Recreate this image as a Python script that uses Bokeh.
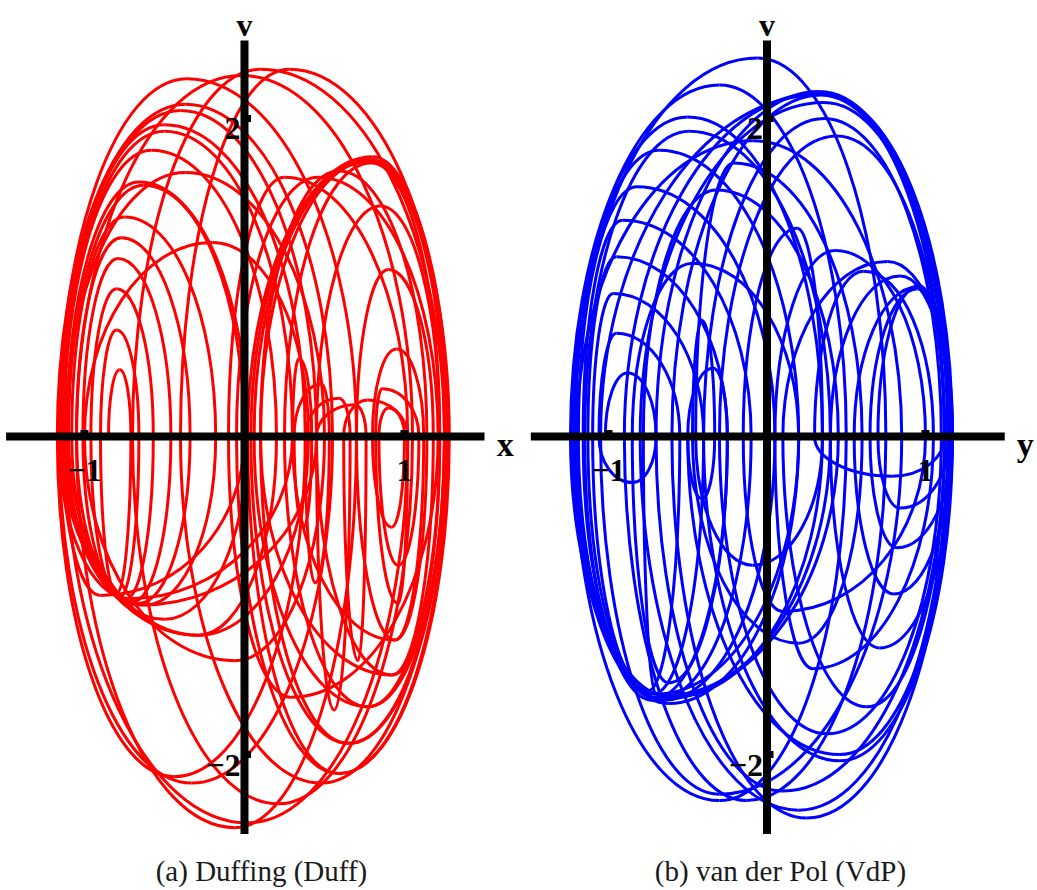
import numpy as np
from bokeh.plotting import figure
from bokeh.layouts import row
from bokeh.models import ColumnDataSource, Label
from bokeh.embed import file_html
from bokeh.resources import INLINE

# ---------------------------------------------------------------------------
# Phase portraits, traced as a chain of turning points per revolution:
# left turn (v = 0) -> top (peak) -> right turn (v = 0) -> bottom (trough) -> next left turn
# ---------------------------------------------------------------------------

# Duffing oscillator: x vs v
duff_left = [-0.85, -0.90, -0.96, -1.01, -1.05, -1.08, -1.11, -1.13, -1.15, -1.17,
             -1.16, -1.05, -0.70, -0.40, 0.02, 0.04, 0.06, 0.10, 0.30, 0.31,
             0.38, 0.45, 0.62, 0.82, 0.84, 0.80, 0.70, 0.45, 0.25, 0.10,
             -0.05, -0.10, -1.12, -1.00, -1.10, -1.14, -1.16, -1.12]
duff_peak_x = [-0.78, -0.80, -0.80, -0.79, -0.77, -0.75, -0.66, -0.58, -0.50, -0.37,
               -0.36, -0.02, 0.10, 0.28, 0.79, 0.80, 0.78, 0.59, 0.34, 0.48,
               0.59, 0.69, 0.77, 0.86, 0.90, 0.95, 0.90, 0.85, 0.79, 0.79,
               0.46, 0.25, -0.37, -0.20, -0.63, -0.50, -0.40]
duff_peak_v = [0.42, 0.67, 0.93, 1.12, 1.25, 1.38, 1.60, 1.80, 1.96, 2.09,
               2.25, 2.27, 2.31, 2.31, 1.74, 1.76, 1.73, 1.67, 0.49, 0.33,
               0.24, 0.20, 0.23, 0.30, 0.18, 0.55, 1.05, 1.45, 1.72, 1.74,
               1.63, 1.63, 1.66, 1.22, 1.58, 1.92, 2.05]
duff_right = [-0.71, -0.66, -0.57, -0.46, -0.34, -0.18, 0.02, 0.20, 0.38, 0.55,
              0.70, 1.05, 1.25, 1.28, 1.26, 1.25, 1.22, 1.14, 0.42, 0.53,
              0.66, 0.76, 1.02, 1.09, 1.00, 1.12, 1.18, 1.22, 1.25, 1.27,
              1.21, 1.02, 0.50, 0.40, 0.00, 0.30, 0.45]
duff_trough_x = [-0.80, -0.78, -0.74, -0.70, -0.66, -0.62, -0.50, -0.29, -0.44, -0.33,
                 -0.06, 0.21, 0.48, 0.59, 0.65, 0.77, 0.92, 0.94, 0.37, 0.44,
                 0.56, 0.71, 0.96, 0.96, 0.92, 0.94, 0.92, 0.77, 0.65, 0.59,
                 0.29, 0.02, -0.06, -0.29, -0.90, -0.72, -0.65]
duff_trough_v = [-0.99, -1.01, -1.02, -1.04, -1.05, -1.06, -1.15, -1.25, -2.14, -2.18,
                 -2.46, -2.31, -2.18, -2.12, -1.93, -1.70, -1.50, -1.28, -0.57, -0.92,
                 -1.72, -1.41, -1.05, -0.81, -0.57, -1.28, -1.50, -1.70, -1.93, -2.12,
                 -1.64, -2.43, -1.41, -1.25, -1.00, -1.02, -1.06]

# van der Pol oscillator: y vs v
vdp_left = [-1.02, -1.06, -1.10, -1.13, -1.16, -1.19, -1.21, -1.23, -1.24, -1.22,
            -0.90, -0.70, -0.60, -0.40, -0.30, 0.10, 0.40, 0.55, 0.65, 0.70,
            0.30, 0.05, -0.15, -0.45, -0.47, -0.50, -0.85, -0.78, -1.15, -1.20,
            -1.05, -0.80, -0.50]
vdp_peak_x = [-0.88, -0.95, -0.97, -0.95, -0.91, -0.82, -0.68, -0.50, -0.30, -0.06,
              0.33, 0.33, 0.35, 0.36, 0.44, 0.76, 0.84, 0.95, 0.95, 0.96,
              0.61, 0.43, 0.19, -0.21, -0.41, -0.34, -0.47, -0.32, -0.49, -0.09,
              0.33, 0.36]
vdp_peak_v = [0.40, 0.65, 0.90, 1.13, 1.36, 1.57, 1.80, 2.01, 2.21, 2.38,
              2.16, 2.17, 2.15, 2.00, 1.89, 1.10, 1.01, 0.94, 0.93, 0.95,
              1.04, 1.17, 1.31, 1.72, 0.73, 0.43, 1.09, 1.55, 1.92, 1.86,
              2.15, 2.10]
vdp_right = [-0.70, -0.55, -0.40, -0.25, -0.10, 0.05, 0.20, 0.35, 0.50, 0.75,
             1.12, 1.15, 1.17, 1.10, 1.12, 1.17, 1.16, 1.17, 1.15, 1.12,
             1.05, 1.00, 0.35, 0.60, -0.33, -0.25, 0.20, 0.45, 0.40, 0.85,
             1.14, 1.16]
vdp_trough_x = [-0.85, -0.75, -0.72, -0.70, -0.68, -0.66, -0.62, -0.60, -0.30, -0.13,
                0.10, 0.25, 0.46, 0.38, 0.63, 0.71, 0.80, 0.82, 0.84, 0.79,
                0.29, 0.10, -0.09, 0.20, -0.41, -0.62, -0.70, -0.72, -0.64, -0.30,
                0.20, 0.46]
vdp_trough_v = [-0.29, -1.60, -1.62, -1.64, -1.65, -1.66, -1.68, -1.64, -2.29, -2.29,
                -2.23, -2.40, -2.04, -1.87, -1.70, -1.33, -0.99, -0.70, -0.45, -0.25,
                -1.46, -1.10, -0.81, -1.30, -0.39, -1.55, -1.62, -1.66, -1.63, -2.25,
                -2.35, -2.00]

# Layout constants (pixels per unit along each axis, origin placement)
HEIGHT = 890
PX_PER_V = 159.0
ORIGIN_TOP = 436.0
V_TOP = ORIGIN_TOP / PX_PER_V
V_BOTTOM = -(HEIGHT - ORIGIN_TOP) / PX_PER_V
KAPPA = 0.5523  # cubic Bezier handle factor for a quarter ellipse

SERIF = "Liberation Serif"


def quarter_arcs(left, peak_x, peak_v, right, trough_x, trough_v):
    L = np.asarray(left, dtype=float)
    P = np.asarray(peak_x, dtype=float)
    Vp = np.asarray(peak_v, dtype=float)
    R = np.asarray(right, dtype=float)
    B = np.asarray(trough_x, dtype=float)
    Vb = np.asarray(trough_v, dtype=float)
    L0, L1 = L[:-1], L[1:]
    z = np.zeros_like(P)
    data = dict(
        x0=np.concatenate([L0, P, R, B]),
        y0=np.concatenate([z, Vp, z, Vb]),
        x1=np.concatenate([P, R, B, L1]),
        y1=np.concatenate([Vp, z, Vb, z]),
        cx0=np.concatenate([L0, P + KAPPA * (R - P), R, B - KAPPA * (B - L1)]),
        cy0=np.concatenate([KAPPA * Vp, Vp, KAPPA * Vb, Vb]),
        cx1=np.concatenate([P - KAPPA * (P - L0), R, B + KAPPA * (R - B), L1]),
        cy1=np.concatenate([Vp, KAPPA * Vp, Vb, KAPPA * Vb]),
    )
    return ColumnDataSource(data)


def panel(width, px_per_x, origin_left, curve_src, color, xlabel, caption, caption_x):
    x_start = -origin_left / px_per_x
    x_end = (width - origin_left) / px_per_x
    p = figure(width=width, height=HEIGHT, x_range=(x_start, x_end),
               y_range=(V_BOTTOM, V_TOP), x_axis_type=None, y_axis_type=None,
               toolbar_location=None, output_backend="svg", min_border=0,
               outline_line_color=None, background_fill_color="white",
               border_fill_color="white")

    p.bezier(x0="x0", y0="y0", x1="x1", y1="y1", cx0="cx0", cy0="cy0",
             cx1="cx1", cy1="cy1", source=curve_src, line_color=color,
             line_width=3.0)

    # thick axes through the origin
    p.segment(x0=[-1.49, 0.0], y0=[0.0, -2.50], x1=[1.50, 0.0], y1=[0.0, 2.49],
              line_color="black", line_width=8, line_cap="butt")
    # tick stubs
    p.segment(x0=[-1, 1], y0=[0, 0], x1=[-1, 1], y1=[6.5 / PX_PER_V] * 2,
              line_color="black", line_width=8, line_cap="butt")
    p.segment(x0=[0, 0], y0=[2, -2], x1=[6.5 / px_per_x] * 2, y1=[2, -2],
              line_color="black", line_width=7, line_cap="butt")

    def lab(x, y, text, align="center", size="32px", style="bold", color_="black"):
        p.add_layout(Label(x=x, y=y, text=text, text_font=SERIF,
                           text_font_style=style, text_font_size=size,
                           text_align=align, text_baseline="alphabetic",
                           text_color=color_))

    tick_base = -34 / PX_PER_V
    lab(-1, tick_base, "\u22121")
    lab(1, tick_base, "1")
    lab(-4 / px_per_x, 1.937, "2", align="right")
    lab(-4 / px_per_x, -2.07, "\u22122", align="right")
    lab(0, 2.585, "v", size="32px")
    lab(1.63, -0.05, xlabel, size="34px")
    lab(caption_x, -2.735, caption, size="29px", style="normal", color_="#1a1a1a")
    return p


p_duff = panel(518, 160.0, 244.0,
               quarter_arcs(duff_left, duff_peak_x, duff_peak_v, duff_right,
                            duff_trough_x, duff_trough_v),
               "#ff0000", "x", "(a) Duffing (Duff)", 0.106)
p_vdp = panel(519, 158.5, 248.5,
              quarter_arcs(vdp_left, vdp_peak_x, vdp_peak_v, vdp_right,
                           vdp_trough_x, vdp_trough_v),
              "#0000ff", "y", "(b) van der Pol (VdP)", 0.085)

layout = row(p_duff, p_vdp, spacing=0)
open("out.html", "w").write(file_html(layout, INLINE))
